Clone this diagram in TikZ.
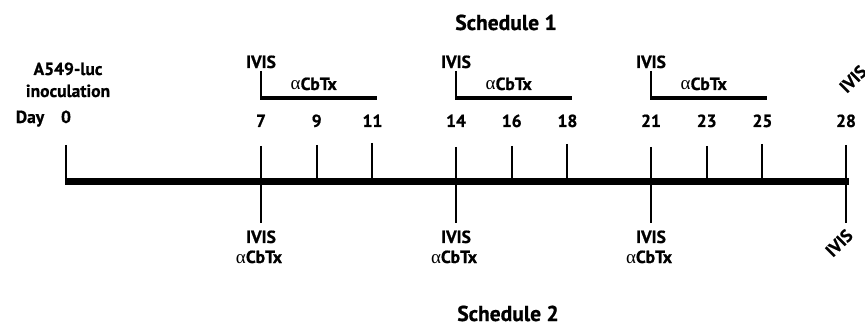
\documentclass[tikz,border=0pt]{standalone}
\usepackage{fontspec}
\setmainfont{PT Sans}[BoldFeatures={FakeBold=0.8}]
\newfontfamily\grk{Liberation Serif}
\newcommand\acbtx{{\grk\mdseries\fontsize{19}{20}\selectfont α}CbTx}
\begin{document}
\begin{tikzpicture}[x=1pt,y=-1pt,
  lbl/.style={font=\bfseries\fontsize{17.5}{20}\selectfont, inner sep=0pt, anchor=base},
  ttl/.style={font=\bfseries\fontsize{21.5}{24}\selectfont, inner sep=0pt, anchor=base},
  tickline/.style={line width=2pt},
  barline/.style={line width=4pt},
  mainline/.style={line width=7pt}]
\useasboundingbox (0,0) rectangle (865,323);
% ticks
\foreach \d/\tp in {0/145,7/146,9/145,11/143,14/147,16/146,18/144,21/147,23/146,25/144,28/145} {
  \coordinate (a\d) at ({66+27.857*\d},\tp);
  \coordinate (b\d) at ({66+27.857*\d},181.5);
  \draw[tickline] (a\d) -- (b\d);
}
% lower ticks
\foreach \d in {7,14,21,28} {
  \coordinate (c\d) at ({66+27.857*\d},223);
  \draw[tickline] (b\d) -- (c\d);
}
% main line
\coordinate (L) at (65,181.5);
\coordinate (R) at (849,181.5);
\draw[mainline] (L) -- (R);
% treatment bars
\foreach \s/\e in {7/11,14/18,21/25} {
  \coordinate (v\s) at ({66+27.857*\s},71);
  \coordinate (w\s) at ({66+27.857*\s},98);
  \coordinate (p\s) at ({65+27.857*\s},98);
  \coordinate (q\s) at ({70.5+27.857*\e},98);
  \draw[tickline] (v\s) -- (w\s);
  \draw[barline] (p\s) -- (q\s);
}
% day numbers
\node[lbl] (d0) at (66,123) {0};
\foreach \d in {7,9,11,14,16,18,21,23,25,28} {
  \node[lbl] (d\d) at ({66+27.857*\d},127) {\d};
}
\node[lbl] (day) at (30,123) {Day};
\node[lbl] (a549) at (68,75) {A549-luc};
\node[lbl] (inoc) at (68,97) {inoculation};
% schedule 1 labels
\foreach \s/\m in {7/9,14/16,21/23} {
  \node[lbl] (ti\s) at ({66+27.857*\s},68) {IVIS};
  \node[lbl] (ta\s) at ({63+27.857*\m},90) {\acbtx};
  \node[lbl] (bi\s) at ({66+27.857*\s},243) {IVIS};
  \node[lbl] (ba\s) at ({64+27.857*\s},263) {\acbtx};
}
\node[lbl, anchor=center, rotate=45] (ti28) at (853,79) {IVIS};
\node[lbl, anchor=center, rotate=45] (bi28) at (839,243) {IVIS};
% titles
\node[ttl] (s1) at (506,30) {Schedule 1};
\node[ttl] (s2) at (508,321) {Schedule 2};
\end{tikzpicture}
\end{document}
